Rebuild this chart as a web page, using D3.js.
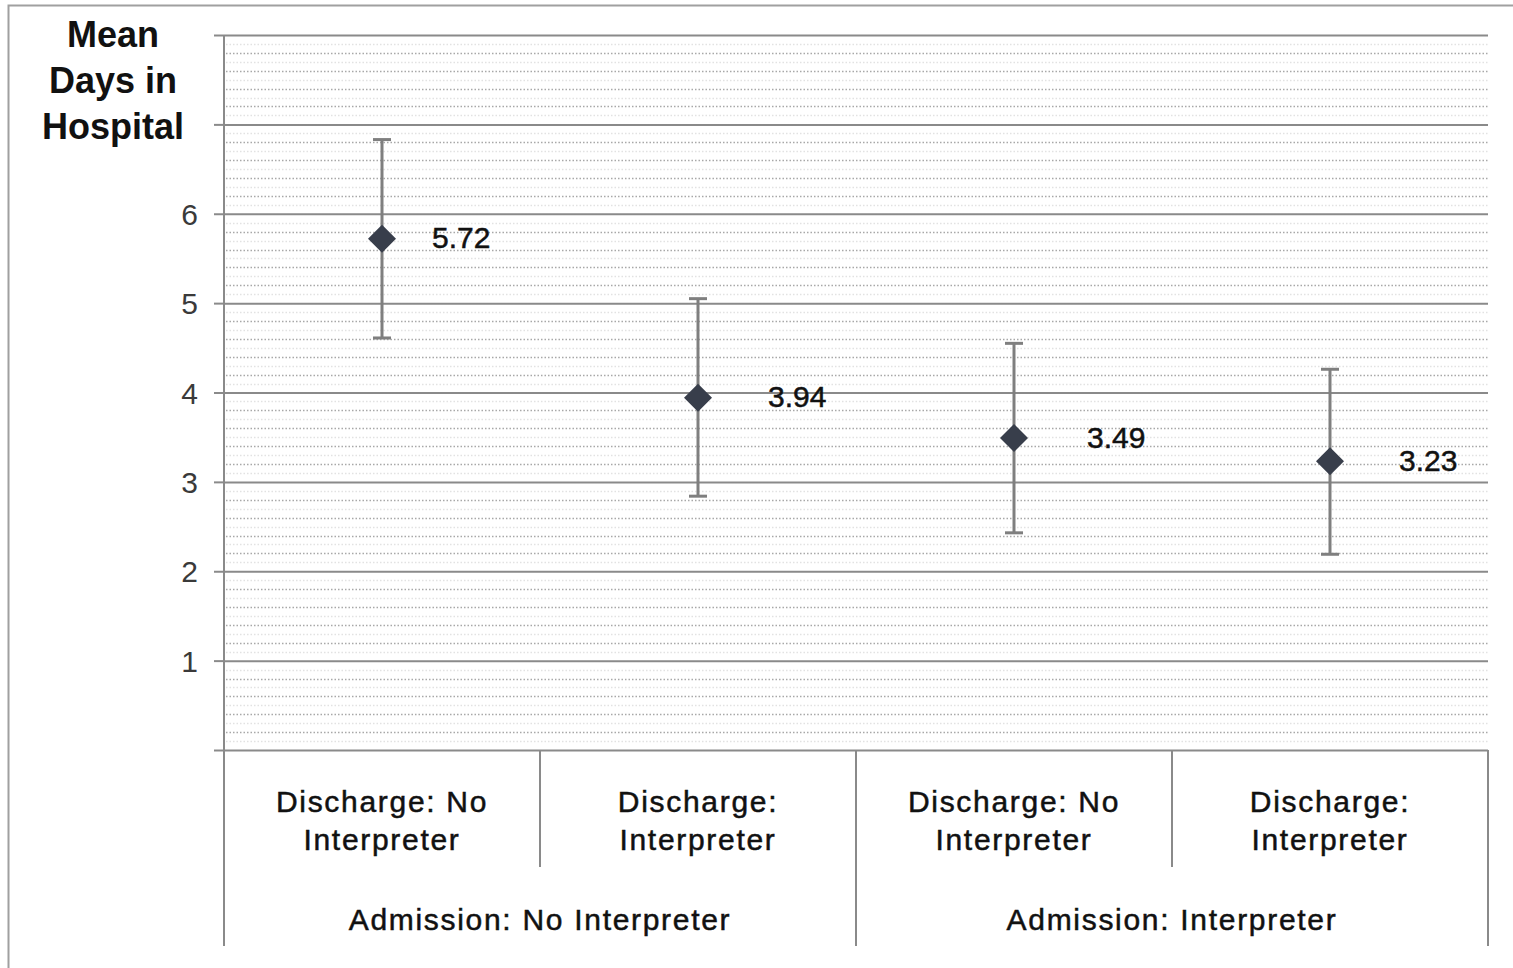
<!DOCTYPE html>
<html>
<head>
<meta charset="utf-8">
<script src="https://cdn.jsdelivr.net/npm/d3@7/dist/d3.min.js"></script>
<style>
  html, body { margin: 0; padding: 0; background: #fff; }
  svg { display: block; font-family: "Liberation Sans", Arial, sans-serif; }
</style>
</head>
<body>
<svg id="chart" width="1513" height="968"></svg>
<script>
// ---- data ----
const categories = ["Discharge: No Interpreter", "Discharge: Interpreter", "Discharge: No Interpreter", "Discharge: Interpreter"];
const categoryLine1 = ["Discharge: No", "Discharge:", "Discharge: No", "Discharge:"];
const categoryLine2 = ["Interpreter", "Interpreter", "Interpreter", "Interpreter"];
const groups = ["Admission: No Interpreter", "Admission: Interpreter"];
const means = [5.72, 3.94, 3.49, 3.23];
const upper = [6.83, 5.05, 4.55, 4.26];
const lower = [4.61, 2.84, 2.43, 2.19];
const yTicks = [0, 1, 2, 3, 4, 5, 6, 7, 8];
const yTickLabels = ["", "1", "2", "3", "4", "5", "6", "", ""];
const titleLines = ["Mean", "Days in", "Hospital"];
// layout helpers (not data)
const labelDx = [50, 70, 73, 69];

(function () {
const svg = d3.select("#chart");
const pLeft = 224, pRight = 1488, pTop = 35, pBottom = 750;

// outer border
svg.append("rect").attr("x", 8.5).attr("y", 5.5).attr("width", 1520).attr("height", 980)
  .attr("fill", "none").attr("stroke", "#a0a0a0").attr("stroke-width", 2);

const x = d3.scaleBand().domain(d3.range(categories.length)).range([pLeft, pRight]);
const y = d3.scaleLinear().domain([0, 8]).range([pBottom, pTop]);

// minor grid
const minor = d3.range(1, 80).map(i => i / 10).filter(v => Math.abs(v - Math.round(v)) > 1e-6);
svg.append("g").selectAll("line").data(minor).join("line")
  .attr("x1", pLeft + 2).attr("x2", pRight)
  .attr("y1", d => Math.round(y(d)) + 0.5).attr("y2", d => Math.round(y(d)) + 0.5)
  .attr("stroke", d => (Math.round(d * 10) % 2 === 0 ? "#a8a8a8" : "#e2e2e2"))
  .attr("stroke-width", 1.4)
  .attr("stroke-dasharray", "1.5,2");

// y axis with major grid
const yAxis = d3.axisLeft(y).tickValues(yTicks)
  .tickFormat((d, i) => yTickLabels[i])
  .tickSize(-(pRight - pLeft)).tickSizeOuter(0).tickPadding(0);
const ya = svg.append("g").attr("transform", `translate(${pLeft},0)`).call(yAxis);
ya.select(".domain").remove();
ya.selectAll(".tick line").attr("stroke", "#8a8a8a").attr("stroke-width", 2);
ya.selectAll(".tick").append("line").attr("x1", -10).attr("x2", 0)
  .attr("stroke", "#8a8a8a").attr("stroke-width", 2);
ya.selectAll(".tick text").attr("x", -26).attr("dy", "0.35em")
  .attr("font-size", 30).attr("fill", "#3a3a3a")
  .attr("font-family", "'Liberation Sans', Arial, sans-serif");

// y axis line extended down through category area
svg.append("line").attr("x1", pLeft).attr("x2", pLeft).attr("y1", pTop).attr("y2", 946)
  .attr("stroke", "#8a8a8a").attr("stroke-width", 2);

// category separators
const seps = [
  {x: x.range()[1], y2: 946},
  {x: x(1), y2: 867},
  {x: x(2), y2: 946},
  {x: x(3), y2: 867}
];
svg.append("g").selectAll("line").data(seps).join("line")
  .attr("x1", d => d.x).attr("x2", d => d.x).attr("y1", pBottom).attr("y2", d => d.y2)
  .attr("stroke", "#8a8a8a").attr("stroke-width", 2);

// category labels
const catG = svg.append("g").attr("font-size", 30).attr("fill", "#111").attr("text-anchor", "middle")
  .attr("letter-spacing", 1.7).attr("stroke", "#111").attr("stroke-width", 0.5);
categories.forEach((c, i) => {
  const cx = x(i) + x.bandwidth() / 2;
  const t = catG.append("text").attr("x", cx).attr("y", 812);
  t.append("tspan").attr("x", cx).text(categoryLine1[i]);
  t.append("tspan").attr("x", cx).attr("dy", 38).text(categoryLine2[i]);
});
groups.forEach((g, i) => {
  const cx = (x(i * 2) + x(i * 2 + 1) + x.bandwidth()) / 2;
  catG.append("text").attr("x", cx).attr("y", 930).text(g);
});

// error bars
const eb = svg.append("g").attr("stroke", "#7f7f7f").attr("stroke-width", 3);
means.forEach((m, i) => {
  const cx = x(i) + x.bandwidth() / 2;
  eb.append("line").attr("x1", cx).attr("x2", cx).attr("y1", y(upper[i])).attr("y2", y(lower[i]));
  eb.append("line").attr("x1", cx - 9).attr("x2", cx + 9).attr("y1", y(upper[i])).attr("y2", y(upper[i]));
  eb.append("line").attr("x1", cx - 9).attr("x2", cx + 9).attr("y1", y(lower[i])).attr("y2", y(lower[i]));
});

// markers
svg.append("g").selectAll("path").data(means).join("path")
  .attr("d", "M0,-14L14,0L0,14L-14,0Z")
  .attr("transform", (d, i) => `translate(${x(i) + x.bandwidth() / 2},${y(d)})`)
  .attr("fill", "#383e4b");

// value labels
svg.append("g").selectAll("text").data(means).join("text")
  .attr("x", (d, i) => x(i) + x.bandwidth() / 2 + labelDx[i])
  .attr("y", d => y(d) - 1)
  .attr("dy", "0.35em")
  .attr("font-size", 30).attr("fill", "#111")
  .attr("stroke", "#111").attr("stroke-width", 0.5)
  .text(d => d.toFixed(2));

// title
const tt = svg.append("text").attr("font-size", 36).attr("font-weight", "bold")
  .attr("text-anchor", "middle").attr("fill", "#111");
titleLines.forEach((l, i) => {
  tt.append("tspan").attr("x", 113).attr("y", 47 + i * 46).text(l);
});
})();
</script>
</body>
</html>
